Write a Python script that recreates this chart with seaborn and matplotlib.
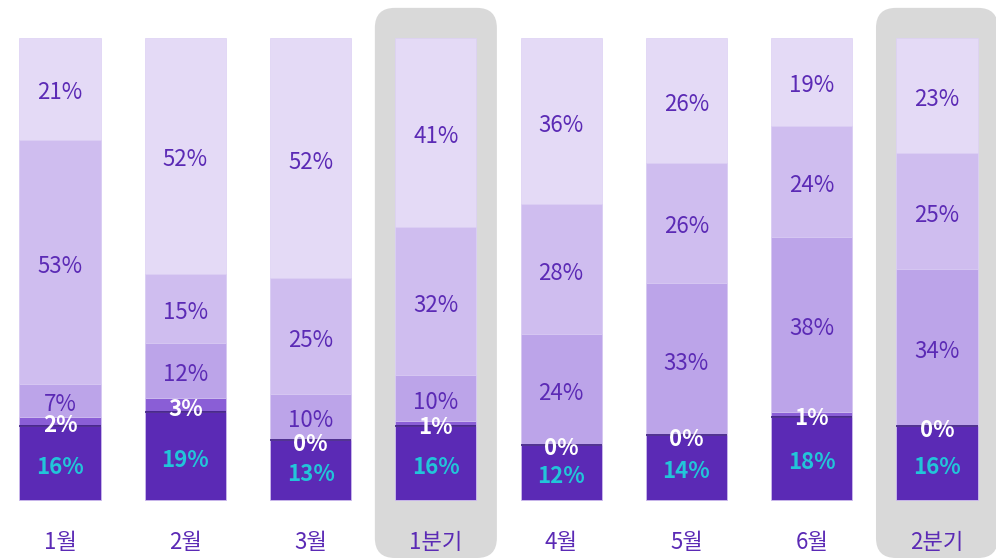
import numpy as np
import pandas as pd
import matplotlib
matplotlib.use('Agg')
import matplotlib.pyplot as plt
import seaborn as sns
from matplotlib.patches import FancyBboxPatch

sns.set_style('white')
plt.rcParams['font.family'] = ['Noto Sans CJK KR', 'DejaVu Sans']

# data (share %, bottom -> top)
periods = ['1월', '2월', '3월', '1분기', '4월', '5월', '6월', '2분기']
seg1 = [16, 19, 13, 16, 12, 14, 18, 16]
seg2 = [2, 3, 0, 1, 0, 0, 1, 0]
seg3 = [7, 12, 10, 10, 24, 33, 38, 34]
seg4 = [53, 15, 25, 32, 28, 26, 24, 25]
seg5 = [21, 52, 52, 41, 36, 26, 19, 23]
highlight = ['1분기', '2분기']

COLORS = ['#5b2ab5', '#8a5ed6', '#bca4e9', '#cfbdef', '#e4daf6']
TEXT_PURPLE = '#5b2ab5'
CYAN = '#22c5d9'
EDGE = '#dcd0f4'

segs = np.array([seg1, seg2, seg3, seg4, seg5], dtype=float)
cum = np.cumsum(segs[:4], axis=0)
tops = [cum[0], cum[1], cum[2], cum[3], np.full(len(periods), 100.0)]
bottoms = [np.zeros(len(periods)), cum[0], cum[1], cum[2], cum[3]]

fig = plt.figure(figsize=(9.96, 5.58), dpi=100)
ax = fig.add_axes([0, 0, 1, 1])

# px -> data mapping
x_left, x_right = -0.479, 7.471
y_low, y_high = -12.55, 108.2
bar_w = 0.647
dy = -0.9  # small downward nudge for CJK text centring

# highlight panels behind quarter bars
asp = (996 / (x_right - x_left)) / (558 / (y_high - y_low))
for i, p in enumerate(periods):
    if p in highlight:
        box = FancyBboxPatch((i - 0.487, y_low), 0.974, 106.5 - y_low,
                             boxstyle='round,pad=0,rounding_size=0.16',
                             mutation_aspect=asp, facecolor='#d9d9d9',
                             edgecolor='none', zorder=0)
        ax.add_patch(box)

# stacked bars via overlapping cumulative layers (top layer first)
for k in range(4, -1, -1):
    df = pd.DataFrame({'period': periods, 'val': tops[k]})
    sns.barplot(data=df, x='period', y='val', color=COLORS[k], width=bar_w,
                saturation=1, edgecolor=EDGE, linewidth=0.5, ax=ax, zorder=2)

ax.hlines(cum[0], np.arange(len(periods)) - bar_w / 2, np.arange(len(periods)) + bar_w / 2,
          color='#3c1d80', linewidth=1.2, zorder=3)

# segment labels
for i in range(len(periods)):
    for k in range(5):
        yc = (bottoms[k][i] + tops[k][i]) / 2 + dy
        txt = f'{int(segs[k][i])}%'
        if k == 0:
            ax.text(i, yc, txt, ha='center', va='center', color=CYAN,
                    fontsize=16, fontweight='bold', zorder=5)
        elif k == 1:
            ax.text(i, yc, txt, ha='center', va='center', color='white',
                    fontsize=16, fontweight='bold', zorder=5)
        else:
            ax.text(i, yc, txt, ha='center', va='center', color=TEXT_PURPLE,
                    fontsize=16, zorder=5)
    ax.text(i, -8.2 + dy, periods[i], ha='center', va='center', color=TEXT_PURPLE,
            fontsize=16, zorder=5)

ax.set_xlim(x_left, x_right)
ax.set_ylim(y_low, y_high)
ax.axis('off')

fig.savefig('out.png', dpi=100, facecolor='white')
